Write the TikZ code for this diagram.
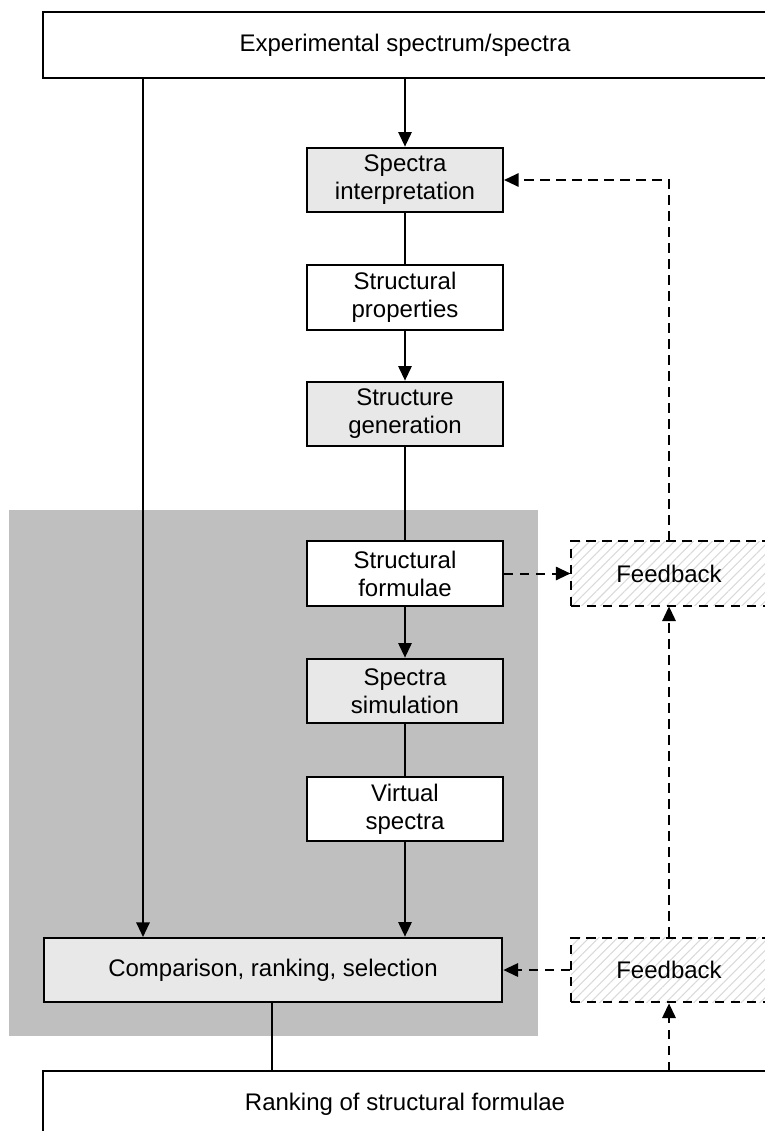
\documentclass[tikz,border=0pt]{standalone}
\usepackage{fontspec}
\setmainfont{Liberation Sans}
\usetikzlibrary{arrows.meta,patterns.meta}
\definecolor{boxgray}{HTML}{E8E8E8}
\definecolor{shadegray}{HTML}{BFBFBF}
\begin{document}
\begin{tikzpicture}[x=0.75pt,y=-0.75pt,
  every node/.style={font=\fontsize{18pt}{21pt}\selectfont},
  box/.style={draw,line width=1.5pt,align=center,inner sep=0pt,minimum width=147pt,minimum height=48.5pt},
  graybox/.style={box,fill=boxgray},
  whitebox/.style={box,fill=white},
  fbbox/.style={draw,line width=1.5pt,dash pattern=on 7pt off 5pt,align=center,inner sep=0pt,
    minimum width=147pt,minimum height=48.5pt,
    pattern={Lines[angle=45,distance=5pt,line width=0.8pt]},pattern color=black!15},
  conn/.style={line width=1.5pt},
  arr/.style={conn,-{Triangle[length=11pt,width=10pt]}},
  darr/.style={arr,dash pattern=on 7pt off 5pt},
]
\useasboundingbox (0,0) rectangle (764,1131);
\fill[shadegray] (9,510) rectangle (538,1036);

\node[whitebox,minimum width=543pt,minimum height=49.5pt] (top) at (405,45) {Experimental spectrum/spectra};
\node[graybox] (si) at (405,180) {Spectra\\interpretation};
\node[whitebox] (sp) at (405,297.5) {Structural\\properties};
\node[graybox] (sg) at (405,414) {Structure\\generation};
\node[whitebox] (sf) at (405,573.5) {Structural\\formulae};
\node[graybox] (ss) at (405,691) {Spectra\\simulation};
\node[whitebox] (vs) at (405,809) {Virtual\\spectra};
\node[graybox,minimum width=344pt] (cmp) at (273,970) {Comparison, ranking, selection};
\node[fbbox] (fb1) at (669,573.5) {Feedback};
\node[fbbox] (fb2) at (669,970) {Feedback};
\node[whitebox,minimum width=543pt,minimum height=49.5pt] (bot) at (405,1104) {Ranking of structural formulae};

\coordinate (tl) at (143,78);
\coordinate (cl) at (143,937);
\coordinate (cb) at (272,1003);
\coordinate (bt) at (272,1071);
\coordinate (bfb) at (669,1071);
\coordinate (corner) at (669,180);

\draw[arr] (top.south) -- (si.north);
\draw[conn] (si.south) -- (sp.north);
\draw[arr] (sp.south) -- (sg.north);
\draw[conn] (sg.south) -- (sf.north);
\draw[arr] (sf.south) -- (ss.north);
\draw[conn] (ss.south) -- (vs.north);
\draw[arr] (vs.south) -- (vs.south |- cmp.north);
\draw[arr] (tl) -- (cl);
\draw[conn] (cb) -- (bt);

\draw[darr] (sf.east) -- (fb1.west);
\draw[darr] (fb2.west) -- (cmp.east);
\draw[darr] (bfb) -- (fb2.south);
\draw[darr] (fb2.north) -- (fb1.south);
\draw[darr] (fb1.north) -- (corner) -- (si.east);
\end{tikzpicture}
\end{document}
